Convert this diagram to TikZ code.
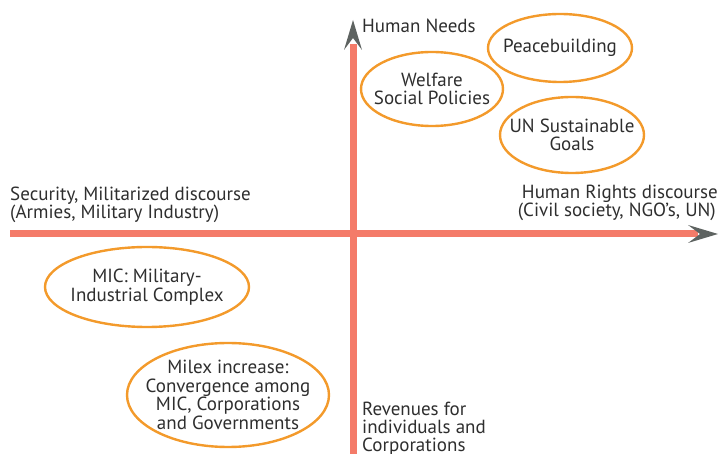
\documentclass[tikz,border=0pt]{standalone}
\usepackage{fontspec}
\setmainfont{PT Sans}
\definecolor{axis}{HTML}{F47B69}
\definecolor{tipgray}{HTML}{5E6361}
\definecolor{ell}{HTML}{F39A2B}
\definecolor{txt}{HTML}{2E2E2E}
\tikzset{
  x=1pt,y=-1pt,
  bub/.style={draw=ell,line width=2.4pt},
  lbl/.style={text=txt,font=\fontsize{19}{18}\selectfont,inner sep=0pt,align=left},
  rlbl/.style={text=txt,font=\fontsize{19}{18}\selectfont,inner sep=0pt,align=right},
  clbl/.style={text=txt,font=\fontsize{19}{18.5}\selectfont,inner sep=0pt,align=center},
  ax/.style={draw=axis,line width=7pt},
  tip/.style={fill=tipgray}
}
\begin{document}
\begin{tikzpicture}
\useasboundingbox (0,0) rectangle (724,454);
% axes
\coordinate (hl) at (10,234);
\coordinate (hr) at (698,234);
\coordinate (vb) at (353,460);
\coordinate (vt) at (353,44);
\draw[ax] (hl) -- (hr);
\draw[ax] (vb) -- (vt);
% arrow heads
\fill[tip] (718,234) -- (688,225) -- (700,234) -- (688,243) -- cycle;
\fill[tip] (353,20) -- (344,50) -- (353,38) -- (362,50) -- cycle;
% ellipses
\draw[bub] (432,89) ellipse [x radius=71,y radius=37];
\node[clbl] (wel) at (432,89) {Welfare\\Social Policies};
\draw[bub] (560,48) ellipse [x radius=72,y radius=34];
\node[clbl] (peace) at (560,48) {Peacebuilding};
\draw[bub] (572,135) ellipse [x radius=72,y radius=38];
\node[clbl] (un) at (572,135) {UN Sustainable\\Goals};
\draw[bub] (147,287) ellipse [x radius=102,y radius=40];
\node[clbl] (mic) at (147,287) {MIC: Military-\\Industrial Complex};
\draw[bub] (228,395) ellipse [x radius=101,y radius=52];
\node[clbl] (milex) at (228,395) {Milex increase:\\Convergence among\\MIC, Corporations\\and Governments};
% axis labels
\node[lbl,anchor=base west] (hn) at (362,33) {Human Needs};
\node[lbl,anchor=base west] (sec) at (10,218.5) {Security, Militarized discourse\\(Armies, Military Industry)};
\node[rlbl,anchor=base east] (hr1) at (718,216.5) {Human Rights discourse\\(Civil society, NGO’s, UN)\hspace*{2pt}};
\node[lbl,anchor=base west] (rev) at (362,452) {Revenues for\\individuals and\\Corporations};
\end{tikzpicture}
\end{document}
